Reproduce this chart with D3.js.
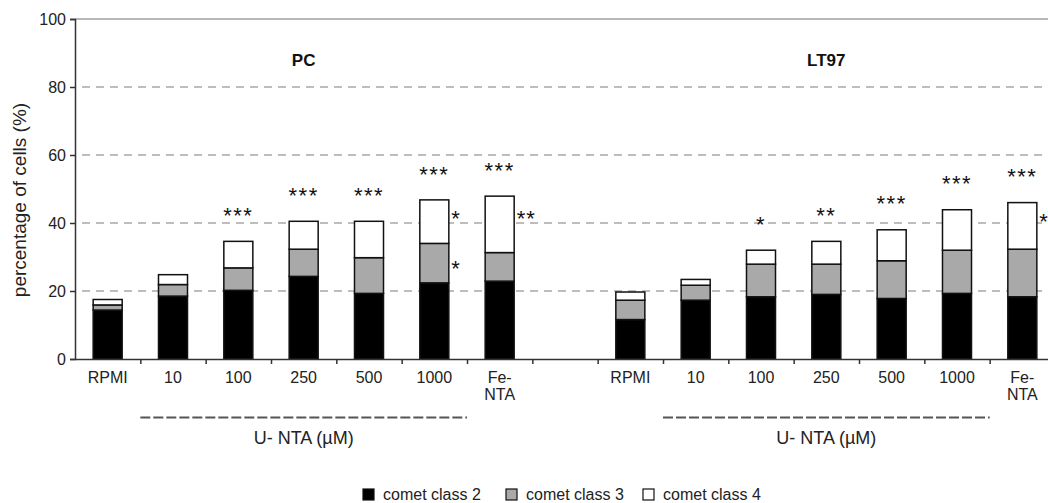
<!DOCTYPE html>
<html>
<head>
<meta charset="utf-8">
<script src="https://cdn.jsdelivr.net/npm/d3@7"></script>
<style>
  html, body { margin: 0; padding: 0; background: #fff; }
  svg { display: block; overflow: hidden; font-family: "Liberation Sans", Arial, sans-serif; }
</style>
</head>
<body>
<svg id="chart" width="1048" height="503"></svg>
<script>
// Treatments for each cell line
const categories = ["RPMI", "10", "100", "250", "500", "1000", "Fe-NTA"];
const cellLines = ["PC", "LT97"];

// Percentage of cells per comet class (stacked: class 2 bottom, class 4 top)
const pcClass2 = [14.4, 18.5, 20.2, 24.3, 19.3, 22.4, 22.9];
const pcClass3 = [1.5, 3.4, 6.6, 8.0, 10.5, 11.6, 8.4];
const pcClass4 = [1.6, 2.9, 7.8, 8.2, 10.7, 12.8, 16.6];
const lt97Class2 = [11.6, 17.3, 18.3, 19.0, 17.8, 19.3, 18.3];
const lt97Class3 = [5.7, 4.4, 9.6, 8.9, 11.1, 12.7, 14.0];
const lt97Class4 = [2.4, 1.7, 4.1, 6.7, 9.1, 11.9, 13.7];

// Significance marks: above the whole bar, and beside single segments
const pcSigTotal = ["", "", "***", "***", "***", "***", "***"];
const pcSigClass3 = ["", "", "", "", "", "*", ""];
const pcSigClass4 = ["", "", "", "", "", "*", "**"];
const lt97SigTotal = ["", "", "*", "**", "***", "***", "***"];
const lt97SigClass3 = ["", "", "", "", "", "", ""];
const lt97SigClass4 = ["", "", "", "", "", "", "*"];

const yTicks = [0, 20, 40, 60, 80, 100];
const seriesNames = ["comet class 2", "comet class 3", "comet class 4"];
const seriesColors = ["#000000", "#a9a9a9", "#ffffff"];
const groupLabel = "U- NTA (\u00b5M)";
const yLabel = "percentage of cells (%)";

// Build rows: one per bar, plus an empty slot between the cell lines
const rows = [];
const groups = [
  { name: cellLines[0], c2: pcClass2, c3: pcClass3, c4: pcClass4, st: pcSigTotal, s3: pcSigClass3, s4: pcSigClass4 },
  { name: cellLines[1], c2: lt97Class2, c3: lt97Class3, c4: lt97Class4, st: lt97SigTotal, s3: lt97SigClass3, s4: lt97SigClass4 }
];
const slots = [];
groups.forEach((g, gi) => {
  categories.forEach((c, i) => {
    const key = g.name + "|" + c;
    slots.push(key);
    rows.push({ key, group: g.name, cat: c, idx: i,
      vals: [g.c2[i], g.c3[i], g.c4[i]],
      sigTotal: g.st[i], sig: ["", g.s3[i], g.s4[i]] });
  });
  if (gi === 0) slots.push("gap");
});

const svg = d3.select("#chart");
const plotLeft = 75, plotRight = 1055, plotTop = 19, plotBottom = 359;

const x = d3.scaleBand().domain(slots).range([plotLeft, plotRight]).paddingInner(0.556).paddingOuter(0.278);
const slotScale = d3.scaleLinear().domain([0, slots.length]).range([plotLeft, plotRight]);
const y = d3.scaleLinear().domain([0, 100]).range([plotBottom, plotTop]);

// Top frame line
svg.append("line").attr("x1", plotLeft).attr("x2", 1048).attr("y1", y(100)).attr("y2", y(100))
  .attr("stroke", "#a0a0a0").attr("stroke-width", 1.5);

// Dashed gridlines
svg.append("g").selectAll("line").data(yTicks.filter(t => t > 0 && t < 100)).join("line")
  .attr("x1", plotLeft + 7).attr("x2", 1048)
  .attr("y1", d => y(d)).attr("y2", d => y(d))
  .attr("stroke", "#a8a8a8").attr("stroke-width", 1.3).attr("stroke-dasharray", "8,6");

// Stacked bars
const stack = d3.stack().keys([0, 1, 2]).value((d, k) => d.vals[k]);
const layers = stack(rows);
const barG = svg.append("g");
layers.forEach((layer, k) => {
  barG.append("g").selectAll("rect").data(layer).join("rect")
    .attr("x", d => x(d.data.key))
    .attr("width", x.bandwidth())
    .attr("y", d => y(d[1]))
    .attr("height", d => y(d[0]) - y(d[1]))
    .attr("fill", seriesColors[k])
    .attr("stroke", "#111").attr("stroke-width", 1.5);
});

// Axes
const yAxis = svg.append("g").attr("transform", `translate(${plotLeft},0)`)
  .call(d3.axisLeft(y).tickValues(yTicks).tickSize(5).tickPadding(4));
yAxis.select(".domain").attr("stroke", "#333").attr("stroke-width", 1.5);
yAxis.selectAll(".tick line").attr("stroke", "#333").attr("stroke-width", 1.5);
yAxis.selectAll(".tick text").attr("font-size", 16).attr("fill", "#222")
  .attr("font-family", "Liberation Sans, Arial, sans-serif");

const xAxis = svg.append("g").attr("transform", `translate(0,${plotBottom})`)
  .call(d3.axisBottom(slotScale).tickValues(d3.range(1, slots.length + 1)).tickFormat("").tickSize(5).tickSizeOuter(0));
xAxis.select(".domain").attr("stroke", "#333").attr("stroke-width", 1.5);
xAxis.selectAll(".tick line").attr("stroke", "#333").attr("stroke-width", 1.5);

// Category labels (Fe-NTA wraps over two lines)
const labG = svg.append("g").attr("font-size", 16).attr("fill", "#222").attr("text-anchor", "middle");
rows.forEach(r => {
  const t = labG.append("text").attr("x", x(r.key) + x.bandwidth() / 2).attr("y", 383);
  const lines = r.cat === "Fe-NTA" ? ["Fe-", "NTA"] : [r.cat];
  lines.forEach((ln, i) => t.append("tspan").attr("x", x(r.key) + x.bandwidth() / 2).attr("dy", i ? 17 : 0).text(ln));
});

// Cell line titles, concentration brackets and group labels
groups.forEach(g => {
  const mid = x(g.name + "|250") + x.bandwidth() / 2;
  svg.append("text").attr("x", mid).attr("y", 66).attr("text-anchor", "middle")
    .attr("font-size", 17).attr("font-weight", "bold").attr("fill", "#111").text(g.name);
  const s0 = x(g.name + "|10") - x.step() * x.paddingInner() / 2;
  const s1 = x(g.name + "|1000") + x.bandwidth() + x.step() * x.paddingInner() / 2;
  svg.append("line").attr("x1", s0).attr("x2", s1).attr("y1", 417.5).attr("y2", 417.5)
    .attr("stroke", "#555").attr("stroke-width", 1.8).attr("stroke-dasharray", "10,3");
  svg.append("text").attr("x", mid).attr("y", 444).attr("text-anchor", "middle")
    .attr("font-size", 18).attr("fill", "#222").text(groupLabel);
});

// Significance marks
const starSize = 22, starLift = 0.575 * starSize;
const sigG = svg.append("g").attr("font-size", starSize).attr("fill", "#111");
rows.forEach((r, ri) => {
  const cx = x(r.key) + x.bandwidth() / 2;
  const total = d3.sum(r.vals);
  if (r.sigTotal) {
    sigG.append("text").attr("x", cx).attr("y", y(total) - 31 + starLift)
      .attr("text-anchor", "middle").attr("letter-spacing", 1.5).text(r.sigTotal);
  }
  r.sig.forEach((s, k) => {
    if (!s) return;
    const seg = layers[k][ri];
    const frac = k === 2 ? 0.3 : 0.5;
    const cy = y(seg[1]) + (y(seg[0]) - y(seg[1])) * frac;
    sigG.append("text").attr("x", x(r.key) + x.bandwidth() + 2.5).attr("y", cy + starLift)
      .attr("letter-spacing", 1).text(s);
  });
});

// Y axis title
svg.append("text").attr("transform", "translate(26,200) rotate(-90)")
  .attr("text-anchor", "middle").attr("font-size", 19).attr("fill", "#222").text(yLabel);

// Legend
const legX = [363, 506, 643];
const leg = svg.append("g");
seriesNames.forEach((n, k) => {
  leg.append("rect").attr("x", legX[k]).attr("y", 489).attr("width", 11).attr("height", 11)
    .attr("fill", seriesColors[k]).attr("stroke", "#111").attr("stroke-width", 1.2);
  leg.append("text").attr("x", legX[k] + 20).attr("y", 499.5).attr("font-size", 16)
    .attr("fill", "#222").text(n);
});
</script>
</body>
</html>
